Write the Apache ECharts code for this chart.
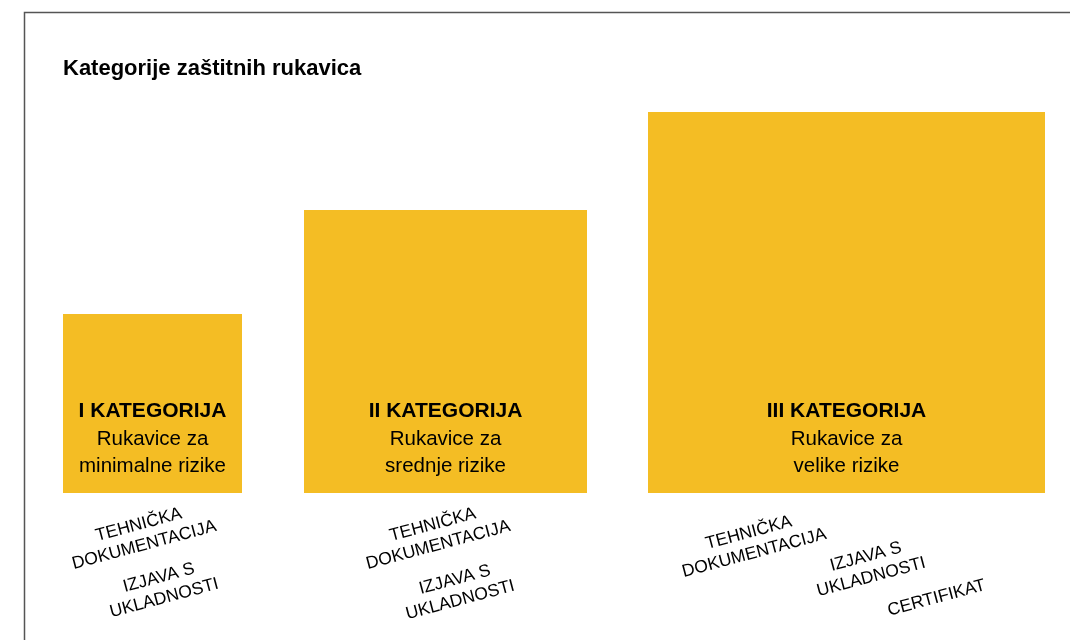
<!DOCTYPE html>
<html>
<head>
<meta charset="utf-8">
<title>Kategorije zaštitnih rukavica</title>
<script src="https://cdn.jsdelivr.net/npm/echarts@6/dist/echarts.min.js"></script>
<style>
  html, body { margin: 0; padding: 0; background: #fff; }
  #chart { width: 1070px; height: 640px; }
</style>
</head>
<body>
<div id="chart"></div>
<script>
// categories and what they need
const categories = ['I KATEGORIJA', 'II KATEGORIJA', 'III KATEGORIJA'];
const subtitles = ['Rukavice za\nminimalne rizike', 'Rukavice za\nsrednje rizike', 'Rukavice za\nvelike rizike'];
const documents = [
  ['TEHNIČKA\nDOKUMENTACIJA', 'IZJAVA S\nUKLADNOSTI'],
  ['TEHNIČKA\nDOKUMENTACIJA', 'IZJAVA S\nUKLADNOSTI'],
  ['TEHNIČKA\nDOKUMENTACIJA', 'IZJAVA S\nUKLADNOSTI', 'CERTIFIKAT']
];
// block extents (x start, x end) and heights, in chart units
const blockStart = [0, 241, 585];
const blockEnd = [179, 524, 982];
const blockHeight = [179, 283, 381];

// where the document labels sit, relative to block centre / bottom
const docOffsets = [
  [[-11, 42], [9, 95]],
  [[-10, 42], [12, 97]],
  [[-95, 50], [22, 74], [90, 105]]
];

const chart = echarts.init(document.getElementById('chart'));

const data = categories.map(function (c, i) {
  return [blockStart[i], blockEnd[i], blockHeight[i], i];
});

function renderBlock(params, api) {
  const i = api.value(3);
  const p0 = api.coord([api.value(0), api.value(2)]);
  const p1 = api.coord([api.value(1), 0]);
  const cx = (p0[0] + p1[0]) / 2;
  const bottom = p1[1];
  const children = [{
    type: 'rect',
    shape: { x: p0[0], y: p0[1], width: p1[0] - p0[0], height: p1[1] - p0[1] },
    style: { fill: '#f4bd24' }
  }, {
    type: 'text',
    x: cx, y: bottom - 82,
    style: {
      text: categories[i], align: 'center', verticalAlign: 'middle',
      fontSize: 21, fontWeight: 'bold', fontFamily: 'Liberation Sans', fill: '#000'
    }
  }, {
    type: 'text',
    x: cx, y: bottom - 40,
    style: {
      text: subtitles[i], align: 'center', verticalAlign: 'middle', lineHeight: 27,
      fontSize: 20.5, fontFamily: 'Liberation Sans', fill: '#000'
    }
  }];
  documents[i].forEach(function (d, j) {
    const off = docOffsets[i][j];
    children.push({
      type: 'text',
      x: cx + off[0], y: bottom + off[1],
      rotation: Math.PI / 12,
      style: {
        text: d, align: 'center', verticalAlign: 'middle', lineHeight: 21,
        fontSize: 17.5, fontFamily: 'Liberation Sans', fill: '#000'
      }
    });
  });
  return { type: 'group', children: children };
}

chart.setOption({
  animation: false,
  title: {
    text: 'Kategorije zaštitnih rukavica',
    left: 58, top: 53,
    textStyle: { fontSize: 22, fontWeight: 'bold', fontFamily: 'Liberation Sans', color: '#000' }
  },
  graphic: [{
    type: 'polyline',
    shape: { points: [[24.5, 640], [24.5, 12.5], [1070, 12.5]] },
    style: { stroke: '#555', lineWidth: 1.5, fill: null }
  }],
  grid: { left: 63, right: 25, top: 112, bottom: 147 },
  xAxis: { type: 'value', min: 0, max: 982, show: false },
  yAxis: { type: 'value', min: 0, max: 381, show: false },
  series: [{
    type: 'custom',
    renderItem: renderBlock,
    data: data,
    clip: false
  }]
});
</script>
</body>
</html>
